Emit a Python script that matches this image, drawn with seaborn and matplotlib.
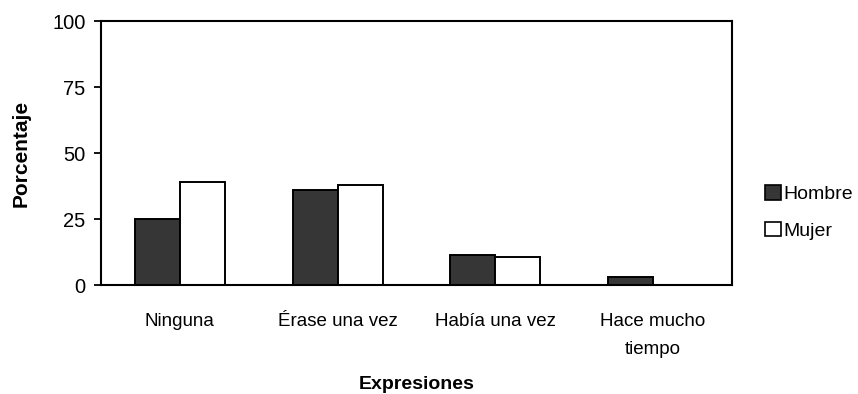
import matplotlib
matplotlib.use("Agg")
import matplotlib.pyplot as plt
import seaborn as sns
import pandas as pd
from matplotlib.patches import Patch

categorias = ["Ninguna", "Érase una vez", "Había una vez", "Hace mucho\ntiempo"]
hombre = [25, 36, 11.4, 3]
mujer = [39, 38, 10.5, 0]
series = ["Hombre", "Mujer"]
colores = {"Hombre": "#363636", "Mujer": "#ffffff"}

df = pd.DataFrame({
    "Expresiones": categorias * 2,
    "Porcentaje": hombre + mujer,
    "Sexo": [series[0]] * len(categorias) + [series[1]] * len(categorias),
})

sns.set_theme(style="white")
plt.rcParams["font.family"] = ["Liberation Sans", "DejaVu Sans"]
plt.rcParams["text.color"] = "black"

fig = plt.figure(figsize=(8.58, 3.94), dpi=100)
ax = fig.add_axes([0.1177, 0.2766, 0.7354, 0.6701])

sns.barplot(data=df, x="Expresiones", y="Porcentaje", hue="Sexo",
            palette=colores, width=0.57, edgecolor="black", linewidth=1.4,
            saturation=1, legend=False, ax=ax)

ax.set_ylim(0, 100)
ax.set_yticks([0, 25, 50, 75, 100])
ax.set_xlim(-0.5, len(categorias) - 0.5)
ax.tick_params(axis="y", which="both", left=True, length=5, width=1.3,
               labelsize=14.5, color="black", labelcolor="black", pad=6)
ax.tick_params(axis="x", bottom=False, labelsize=13.5, labelcolor="black", pad=14)
for lbl in ax.get_xticklabels():
    lbl.set_linespacing(1.9)
for s in ax.spines.values():
    s.set_visible(True)
    s.set_color("black")
    s.set_linewidth(1.5)

ax.set_xlabel("Expresiones", fontsize=14, fontweight="bold", color="black")
ax.set_ylabel("Porcentaje", fontsize=15, fontweight="bold", color="black")
ax.xaxis.set_label_coords(0.5, -0.345)
ax.yaxis.set_label_coords(-0.111, 0.5)

handles = [Patch(facecolor=colores[s], edgecolor="black", linewidth=1.2, label=s) for s in series]
fig.legend(handles=handles, loc="center left", bbox_to_anchor=(0.883, 0.461),
           frameon=False, fontsize=14, handlelength=0.8, handleheight=0.8,
           handletextpad=0.15, labelspacing=0.95, borderaxespad=0,
           labelcolor="black")

fig.savefig("out.png", dpi=100)
